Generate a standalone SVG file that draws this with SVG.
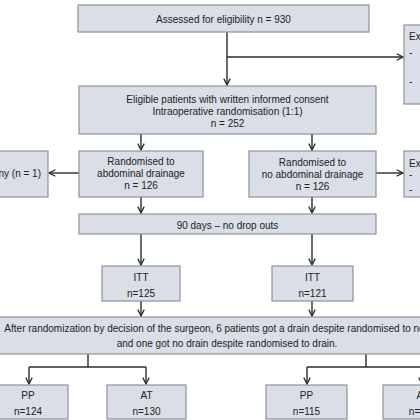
<svg xmlns="http://www.w3.org/2000/svg" width="420" height="420" viewBox="0 0 420 420">
<style>
.box{fill:#d9dee7;stroke:#8d929b;stroke-width:1.2}
.t{font-family:"Liberation Sans",Arial,sans-serif;font-size:10px;fill:#222;text-anchor:middle}
.l{text-anchor:start}
.e{text-anchor:end}
.c{fill:none;stroke:#2b2b2b;stroke-width:1.4}
</style>
<defs>
<marker id="arr" viewBox="0 0 10 10" refX="9" refY="5" markerWidth="8" markerHeight="8" markerUnits="userSpaceOnUse" orient="auto">
<path d="M1,1 L9,5 L1,9" fill="none" stroke="#2b2b2b" stroke-width="1.6"/>
</marker>
</defs>
<rect width="420" height="420" fill="#ffffff"/>
<g id="connectors">
<path class="c" d="M227,32 V85" marker-end="url(#arr)"/>
<path class="c" d="M227,57 H403" marker-end="url(#arr)"/>
<path class="c" d="M141,134 V150" marker-end="url(#arr)"/>
<path class="c" d="M312,134 V150" marker-end="url(#arr)"/>
<path class="c" d="M79,173 H49" marker-end="url(#arr)"/>
<path class="c" d="M376,173 H403" marker-end="url(#arr)"/>
<path class="c" d="M141,197 V213" marker-end="url(#arr)"/>
<path class="c" d="M312,197 V213" marker-end="url(#arr)"/>
<path class="c" d="M141,234 V265" marker-end="url(#arr)"/>
<path class="c" d="M312,234 V265" marker-end="url(#arr)"/>
<path class="c" d="M141,301 V316" marker-end="url(#arr)"/>
<path class="c" d="M312,301 V316" marker-end="url(#arr)"/>
<path class="c" d="M88,354 V367 M29,367 H146"/>
<path class="c" d="M29,367 V384" marker-end="url(#arr)"/>
<path class="c" d="M146,367 V384" marker-end="url(#arr)"/>
<path class="c" d="M366,354 V367 M307,367 H425"/>
<path class="c" d="M307,367 V384" marker-end="url(#arr)"/>
<path class="c" d="M422,367 V384" marker-end="url(#arr)"/>
</g>
<g id="assessed">
<rect class="box" x="78" y="5" width="291" height="27"/>
<text class="t" x="223.5" y="22.5">Assessed for eligibility n = 930</text>
</g>
<g id="excluded1">
<rect class="box" x="404" y="25" width="40" height="79"/>
<text class="t l" x="409" y="40">Ex</text>
<text class="t l" x="409" y="55.5">-</text>
<text class="t l" x="409" y="84.5">-</text>
</g>
<g id="eligible">
<rect class="box" x="79" y="86" width="297" height="48"/>
<text class="t" x="227.5" y="102.5">Eligible patients with written informed consent</text>
<text class="t" x="227.5" y="114.5">Intraoperative randomisation (1:1)</text>
<text class="t" x="227.5" y="126.5">n = 252</text>
</g>
<g id="leftExcluded">
<rect class="box" x="-10" y="151" width="58" height="46"/>
<text class="t e" x="41" y="177">ny (n = 1)</text>
</g>
<g id="randDrain">
<rect class="box" x="79" y="151" width="124" height="46"/>
<text class="t" x="141" y="164.5">Randomised to</text>
<text class="t" x="141" y="176.5">abdominal drainage</text>
<text class="t" x="141" y="188.5">n = 126</text>
</g>
<g id="randNoDrain">
<rect class="box" x="249" y="151" width="127" height="46"/>
<text class="t" x="312.5" y="166">Randomised to</text>
<text class="t" x="312.5" y="178">no abdominal drainage</text>
<text class="t" x="312.5" y="190">n = 126</text>
</g>
<g id="excluded2">
<rect class="box" x="404" y="151" width="40" height="46"/>
<text class="t l" x="409" y="166.5">Ex</text>
<text class="t l" x="409" y="177.5">-</text>
<text class="t l" x="409" y="193">-</text>
</g>
<g id="followup">
<rect class="box" x="79" y="214" width="297" height="20"/>
<text class="t" x="227.5" y="228.5">90 days – no drop outs</text>
</g>
<g id="ittLeft">
<rect class="box" x="102" y="266" width="78" height="35"/>
<text class="t" x="141" y="280.5">ITT</text>
<text class="t" x="141" y="296.5">n=125</text>
</g>
<g id="ittRight">
<rect class="box" x="272" y="266" width="81" height="35"/>
<text class="t" x="312.5" y="280.5">ITT</text>
<text class="t" x="312.5" y="296.5">n=121</text>
</g>
<g id="crossover">
<rect class="box" x="-5" y="317" width="430" height="37"/>
<text class="t" x="227" y="331.5">After randomization by decision of the surgeon, 6 patients got a drain despite randomised to no drain</text>
<text class="t" x="227" y="346.5">and one got no drain despite randomised to drain.</text>
</g>
<g id="ppLeft">
<rect class="box" x="-10" y="385" width="78" height="34"/>
<text class="t" x="28" y="398.5">PP</text>
<text class="t" x="28" y="414.5">n=124</text>
</g>
<g id="atLeft">
<rect class="box" x="107" y="385" width="79" height="34"/>
<text class="t" x="146.5" y="398.5">AT</text>
<text class="t" x="146.5" y="414.5">n=130</text>
</g>
<g id="ppRight">
<rect class="box" x="266" y="385" width="81" height="34"/>
<text class="t" x="306.5" y="398.5">PP</text>
<text class="t" x="306.5" y="414.5">n=115</text>
</g>
<g id="atRight">
<rect class="box" x="383" y="385" width="79" height="34"/>
<text class="t" x="422.5" y="398.5">AT</text>
<text class="t" x="422.5" y="414.5">n=116</text>
</g>
</svg>
